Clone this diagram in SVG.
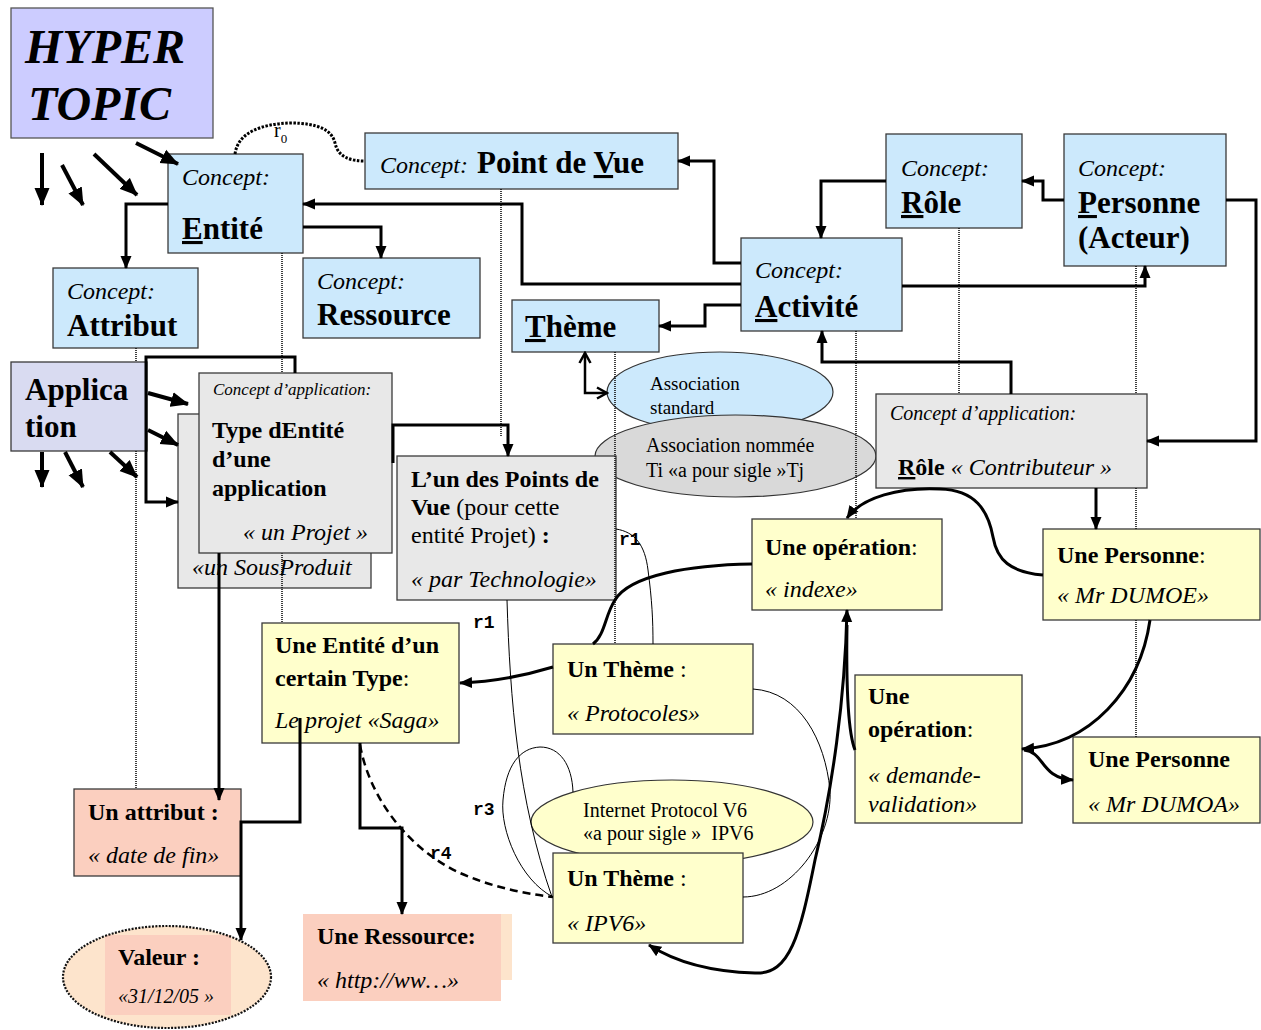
<svg xmlns="http://www.w3.org/2000/svg" width="1261" height="1030" viewBox="0 0 1261 1030">
<defs>
<style>
.bx{stroke:#3a3a3a;stroke-width:1.3}
.blue{fill:#cce9fc}
.grey{fill:#e8e8e8}
.yel{fill:#ffffcc}
.sal{fill:#fbcfbf}
text{font-family:"Liberation Serif","Times New Roman",serif;fill:#000}
.b{font-weight:bold}
.i{font-style:italic}
.u{text-decoration:underline}
.k{fill:none;stroke:#000;stroke-width:3}
.kk{fill:none;stroke:#000;stroke-width:4}
.th{fill:none;stroke:#000;stroke-width:1}
.dt{fill:none;stroke:#111;stroke-width:1.6;stroke-dasharray:1 1}
.r{font-family:"Liberation Mono","Courier New",monospace;font-weight:bold;font-size:18px}
</style>
<marker id="a" markerUnits="userSpaceOnUse" markerWidth="13" markerHeight="12" viewBox="0 0 13 12" refX="12" refY="6" orient="auto-start-reverse"><path d="M0,0.5 L13,6 L0,11.5 z" fill="#000"/></marker>
<marker id="A" markerUnits="userSpaceOnUse" markerWidth="18" markerHeight="16" viewBox="0 0 18 16" refX="17" refY="8" orient="auto"><path d="M0,0.5 L18,8 L0,15.5 z" fill="#000"/></marker>
<marker id="o" markerUnits="userSpaceOnUse" markerWidth="14" markerHeight="14" viewBox="0 0 14 14" refX="12" refY="7" orient="auto-start-reverse"><path d="M2,1.5 L12,7 L2,12.5" fill="none" stroke="#000" stroke-width="2.5"/></marker>
</defs>
<rect width="1261" height="1030" fill="#fff"/>

<g id="hypertopic"><rect x="11" y="8" width="202" height="130" fill="#ccccff" stroke="#555" stroke-width="1.3"/><text class="b i" font-size="48" x="25" y="63">HYPER</text><text class="b i" font-size="48" x="28" y="120">TOPIC</text></g>

<g id="entite"><rect class="bx blue" x="168" y="154" width="135" height="99"/><text class="i" font-size="24" x="182" y="185">Concept:</text><text class="b" font-size="31" x="182" y="239"><tspan class="u">E</tspan>ntité</text></g>

<g id="pointdevue"><rect class="bx blue" x="365" y="133" width="313" height="56"/><text class="i" font-size="24" x="380" y="173">Concept:</text><text class="b" font-size="31" x="477" y="173">Point de <tspan class="u">V</tspan>ue</text></g>

<g id="role"><rect class="bx blue" x="886" y="134" width="136" height="94"/><text class="i" font-size="24" x="901" y="176">Concept:</text><text class="b" font-size="31" x="901" y="213"><tspan class="u">R</tspan>ôle</text></g>

<g id="personne"><rect class="bx blue" x="1064" y="134" width="162" height="132"/><text class="i" font-size="24" x="1078" y="176">Concept:</text><text class="b" font-size="31" x="1078" y="213"><tspan class="u">P</tspan>ersonne</text><text class="b" font-size="31" x="1078" y="248">(Acteur)</text></g>

<g id="activite"><rect class="bx blue" x="741" y="238" width="161" height="93"/><text class="i" font-size="24" x="755" y="278">Concept:</text><text class="b" font-size="31" x="755" y="317"><tspan class="u">A</tspan>ctivité</text></g>

<g id="attribut"><rect class="bx blue" x="53" y="268" width="145" height="80"/><text class="i" font-size="24" x="67" y="299">Concept:</text><text class="b" font-size="31" x="67" y="336">Attribut</text></g>

<g id="ressource"><rect class="bx blue" x="303" y="258" width="177" height="80"/><text class="i" font-size="24" x="317" y="289">Concept:</text><text class="b" font-size="31" x="317" y="325">Ressource</text></g>

<g id="theme"><rect class="bx blue" x="512" y="300" width="147" height="52"/><text class="b" font-size="31" x="525" y="337"><tspan class="u">T</tspan>hème</text></g>

<g id="application"><rect class="bx" fill="#d9dbf1" x="11" y="362" width="136" height="89"/><text class="b" font-size="31" x="25" y="400">Applica</text><text class="b" font-size="31" x="25" y="437">tion</text></g>

<g id="sousproduit"><rect class="bx grey" x="178" y="414" width="193" height="174"/><text class="i" font-size="24" x="192" y="575">«un SousProduit</text></g>

<g id="dotted-282-low"><path class="dt" d="M282,553 V623"/></g>

<g id="typeentite"><rect class="bx grey" x="199" y="373" width="193" height="180"/><text class="i" font-size="17" x="213" y="395">Concept d’application:</text><text class="b" font-size="24" x="212" y="438">Type dEntité</text><text class="b" font-size="24" x="212" y="467">d’une</text><text class="b" font-size="24" x="212" y="496">application</text><text class="i" font-size="24" x="243" y="540">« un Projet »</text></g>

<g id="assoc-standard"><ellipse cx="720" cy="392" rx="113" ry="40" fill="#cce9fc" stroke="#333" stroke-width="1.2"/><text font-size="19" x="650" y="390">Association</text><text font-size="19" x="650" y="414">standard</text></g>

<g id="assoc-nommee"><ellipse cx="735.5" cy="456" rx="140.5" ry="41" fill="#d9d9d9" stroke="#333" stroke-width="1.2"/><text font-size="20" x="646" y="452">Association nommée</text><text font-size="20" x="646" y="477">Ti «a pour sigle »Tj</text></g>

<g id="pointsdevue"><rect class="bx grey" x="397" y="456" width="219" height="144"/><text class="b" font-size="24" x="411" y="487">L’un des Points de</text><text font-size="24" x="411" y="515"><tspan class="b">Vue</tspan> (pour cette</text><text font-size="24" x="411" y="543">entité Projet)<tspan class="b"> :</tspan></text><text class="i" font-size="24" x="411" y="587">« par Technologie»</text></g>

<g id="contributeur"><rect class="bx grey" x="876" y="394" width="271" height="94"/><text class="i" font-size="20" x="890" y="420">Concept d’application:</text><text font-size="24" x="898" y="475"><tspan class="b"><tspan class="u">R</tspan>ôle</tspan><tspan class="i"> « Contributeur »</tspan></text></g>

<g id="indexe"><rect class="bx yel" x="752" y="519" width="190" height="91"/><text font-size="24" x="765" y="555"><tspan class="b">Une opération</tspan>:</text><text class="i" font-size="24" x="765" y="597">« indexe»</text></g>

<g id="dumoe"><rect class="bx yel" x="1043" y="529" width="217" height="91"/><text font-size="24" x="1057" y="563"><tspan class="b">Une Personne</tspan>:</text><text class="i" font-size="24" x="1057" y="603">« Mr DUMOE»</text></g>

<g id="saga"><rect class="bx yel" x="262" y="623" width="197" height="120"/><text class="b" font-size="24" x="275" y="653">Une Entité d’un</text><text font-size="24" x="275" y="686"><tspan class="b">certain Type</tspan>:</text><text class="i" font-size="24" x="275" y="728">Le projet «Saga»</text></g>

<g id="protocoles"><rect class="bx yel" x="553" y="644" width="200" height="90"/><text font-size="24" x="567" y="677"><tspan class="b">Un Thème</tspan> :</text><text class="i" font-size="24" x="567" y="721">« Protocoles»</text></g>

<g id="demande"><rect class="bx yel" x="855" y="675" width="167" height="148"/><text class="b" font-size="24" x="868" y="704">Une</text><text font-size="24" x="868" y="737"><tspan class="b">opération</tspan>:</text><text class="i" font-size="24" x="868" y="783">« demande-</text><text class="i" font-size="24" x="868" y="812">validation»</text></g>

<g id="dumoa"><rect class="bx yel" x="1073" y="737" width="187" height="86"/><text class="b" font-size="24" x="1088" y="767">Une Personne</text><text class="i" font-size="24" x="1088" y="812">« Mr DUMOA»</text></g>

<g id="ipv6-assoc"><ellipse cx="672" cy="822" rx="141" ry="42" fill="#ffffcc" stroke="#333" stroke-width="1.2"/><text font-size="20" x="583" y="817">Internet Protocol V6</text><text font-size="20" x="583" y="840">«a pour sigle » &#160;IPV6</text></g>

<g id="ipv6"><rect class="bx yel" x="553" y="853" width="190" height="90"/><text font-size="24" x="567" y="886"><tspan class="b">Un Thème</tspan> :</text><text class="i" font-size="24" x="567" y="931">« IPV6»</text></g>

<g id="unattribut"><rect class="bx sal" x="74" y="789" width="167" height="87"/><text class="b" font-size="24" x="88" y="820">Un attribut :</text><text class="i" font-size="24" x="88" y="863">« date de fin»</text></g>

<g id="valeur"><ellipse cx="167" cy="977" rx="104" ry="51" fill="#fde4cc"/><rect class="sal" x="105" y="935" width="126" height="80"/><ellipse cx="167" cy="977" rx="104" ry="51" fill="none" stroke="#111" stroke-width="2.2" stroke-dasharray="2 1.4"/><text class="b" font-size="24" x="118" y="965">Valeur :</text><text class="i" font-size="20" x="118" y="1003">«31/12/05 »</text></g>

<g id="uneressource"><rect x="501" y="914" width="11" height="66" fill="#fde4cc"/><rect class="sal" x="303" y="914" width="198" height="87"/><text class="b" font-size="24" x="317" y="944">Une Ressource:</text><text class="i" font-size="24" x="317" y="988">« http://ww…»</text></g>

<g id="connectors">
<g id="instance-links">
<path class="dt" d="M136,348 V362 M136,451 V789 M282,253 V373 M501,189 V436 M615,352 V644 M856,331 V519 M959,228 V394 M1136,266 V394 M1136,488 V529 M1136,620 V737"/>
<path d="M235,154 C238,132 262,124 290,123 C318,123 332,130 335,143 C338,157 350,161 365,161" fill="none" stroke="#000" stroke-width="3" stroke-dasharray="2.5 1.5"/>
</g>
<g marker-end="url(#A)">
<path class="kk" d="M42,153 L42,205"/>
<path class="kk" d="M62,165 L83,205"/>
<path class="kk" d="M94,154 L137,195"/>
<path class="kk" d="M136,143 L178,164"/>
<path class="kk" d="M148,393 L188,404"/>
<path class="kk" d="M148,430 L178,445"/>
<path class="kk" d="M42,452 L42,487"/>
<path class="kk" d="M65,452 L83,487"/>
<path class="kk" d="M110,452 L137,477"/>
</g>
<g marker-end="url(#a)">
<path class="k" d="M295,373 V357 H146 V502 H178"/>
<path class="k" d="M168,204 H126 V268"/>
<path class="k" d="M303,227 H381 V258"/>
<path class="k" d="M741,284 H522 V204 H303"/>
<path class="k" d="M741,263 H714 V161 H678"/>
<path class="k" d="M741,305 H705 V326 H659"/>
<path class="k" d="M886,181 H821 V238"/>
<path class="k" d="M1064,200 H1043 V181 H1022"/>
<path class="k" d="M902,286 H1145 V266"/>
<path class="k" d="M1226,200 H1256 V441 H1147"/>
<path class="k" d="M1011,394 V362 H822 V331"/>
<path class="k" d="M1096,488 V529"/>
<path class="k" d="M393,463 V425 H508 V456"/>
<path class="k" d="M1043,575 C1010,572 997,560 993,537 C988,510 975,490 940,489 C900,487 862,497 847,518"/>
<path class="k" d="M553,667 C520,677 490,682 460,683"/>
<path class="k" d="M219,553 V800"/>
<path class="k" d="M300,718 V822 H241 V940"/>
<path class="k" d="M360,743 V828 H402 V914"/>
<path class="k" d="M1150,620 C1140,690 1090,745 1022,749"/>
<path class="k" d="M1024,750 C1045,752 1040,778 1073,780"/>
</g>
<path class="k" d="M752,564 C690,565 630,575 615,600 C605,615 605,635 593,644"/>
<path class="k" marker-start="url(#a)" marker-end="url(#a)" d="M847,610 C845,700 832,790 815,860 C800,935 790,975 755,973 C720,972 680,965 649,945"/>
<path class="k" d="M855,750 C849,735 846,690 847,625"/>
<path d="M360,745 C370,800 410,850 460,873 C490,886 520,893 553,897" fill="none" stroke="#000" stroke-width="2.5" stroke-dasharray="8 5"/>
<path fill="none" stroke="#000" stroke-width="2.5" marker-start="url(#o)" marker-end="url(#o)" d="M585,353 V393 H607"/>
<path class="th" d="M507,600 C510,700 518,800 552,897"/>
<path class="th" d="M616,529 C635,532 645,545 648,570 C652,600 653,620 653,644"/>
<path class="th" d="M553,897 C520,880 500,830 503,800 C506,765 520,748 540,747 C560,747 572,765 573,792"/>
<path class="th" d="M753,689 C800,692 825,740 830,790 C833,840 790,897 743,897"/>
<g id="labels">
<text font-family="Liberation Mono, Courier New, monospace" font-size="20" x="274" y="137">r<tspan font-size="13" dy="6">0</tspan></text>
<text class="r" x="473" y="628">r1</text>
<text class="r" x="619" y="545">r1</text>
<text class="r" x="473" y="815">r3</text>
<text class="r" x="430" y="859">r4</text>
</g>
</g>
</svg>
